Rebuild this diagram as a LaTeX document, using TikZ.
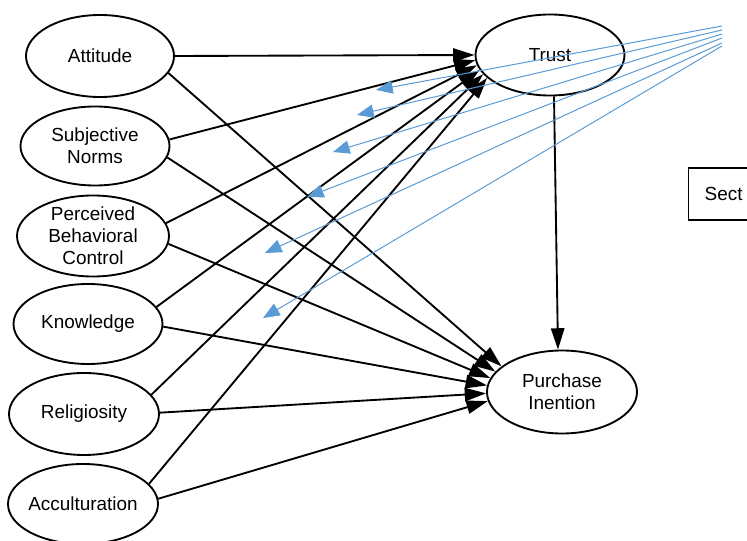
\documentclass[tikz,border=0pt]{standalone}
\usepackage{fontspec}
\setmainfont{Liberation Sans}
\usetikzlibrary{arrows.meta,shapes.geometric}
\definecolor{blueln}{RGB}{91,155,213}
\begin{document}
\begin{tikzpicture}[x=0.75pt,y=-0.75pt,
  ell/.style={draw, ellipse, line width=1.4pt, inner sep=0pt},
  lbl/.style={align=center, font=\fontsize{14.2}{16.5}\selectfont},
  arr/.style={line width=1.4pt, -{Triangle[length=16pt,width=10pt]}},
  barr/.style={draw=blueln, line width=0.75pt, -{Triangle[length=12.5pt,width=10pt]}, blueln}]
\useasboundingbox (0,0) rectangle (747,541);
\clip (0,0) rectangle (747,541);
% ellipses
\node[ell, minimum width=111pt,    minimum height=61.5pt]  (att)   at (100,56)  {};
\node[ell, minimum width=111.75pt, minimum height=59.25pt] (sn)    at (95,146)  {};
\node[ell, minimum width=114pt,    minimum height=60.75pt] (pbc)   at (93,236)  {};
\node[ell, minimum width=111.75pt, minimum height=60pt]    (kn)    at (88,324)  {};
\node[ell, minimum width=112.5pt,  minimum height=61.5pt]  (rel)   at (84,414)  {};
\node[ell, minimum width=112.5pt,  minimum height=60pt]    (acc)   at (83,504)  {};
\node[ell, minimum width=111.75pt, minimum height=60.75pt] (trust) at (550,55)  {};
\node[ell, minimum width=112.5pt,  minimum height=62.25pt] (pi)    at (562,392) {};
% labels
\node[lbl] (attT)   at (att)   {Attitude};
\node[lbl] (snT)    at (sn)    {Subjective\\Norms};
\node[lbl] (pbcT)   at (pbc)   {Perceived\\Behavioral\\Control};
\node[lbl] (knT)    at (kn)    {Knowledge};
\node[lbl] (relT)   at (rel)   {Religiosity};
\node[lbl] (accT)   at (acc)   {Acculturation};
\node[lbl] (trustT) at (trust) {Trust};
\node[lbl] (piT)    at (pi)    {Purchase\\Inention};
% Sect box
\node[draw, line width=1.1pt, anchor=west, minimum height=39pt, text width=48pt,
      inner xsep=12pt, align=left, font=\fontsize{14.2}{16.5}\selectfont] (sect) at (688,194) {Sect};
% arrows to Trust
\draw[arr] (att.east)  -- (trust.180);
\draw[arr] (sn.5)      -- (trust.184);
\draw[arr] (pbc.10)    -- (trust.188);
\draw[arr] (kn.14)     -- (trust.192);
\draw[arr] (rel.16)    -- (trust.196);
\draw[arr] (acc.17)    -- (trust.200);
% arrows to Purchase Inention
\draw[arr] (att.-14)   -- (pi.157);
\draw[arr] (sn.-9.5)   -- (pi.163);
\draw[arr] (pbc.-6)    -- (pi.169);
\draw[arr] (kn.-2.5)   -- (pi.175);
\draw[arr] (rel.1)     -- (pi.181);
\draw[arr] (acc.4)     -- (pi.187);
% Trust -> Purchase Inention
\draw[arr] ([xshift=3pt]trust.south) -- ([xshift=-3pt]pi.north);
% blue lines
\coordinate (b1s) at (722,26);  \coordinate (b1e) at (376,90);
\coordinate (b2s) at (722,30);  \coordinate (b2e) at (357,115);
\coordinate (b3s) at (722,34);  \coordinate (b3e) at (333,152);
\coordinate (b4s) at (722,38);  \coordinate (b4e) at (307,197);
\coordinate (b5s) at (722,43);  \coordinate (b5e) at (265,253);
\coordinate (b6s) at (722,46);  \coordinate (b6e) at (263,318);
\draw[barr] (b1s) -- (b1e);
\draw[barr] (b2s) -- (b2e);
\draw[barr] (b3s) -- (b3e);
\draw[barr] (b4s) -- (b4e);
\draw[barr] (b5s) -- (b5e);
\draw[barr] (b6s) -- (b6e);
\end{tikzpicture}
\end{document}
